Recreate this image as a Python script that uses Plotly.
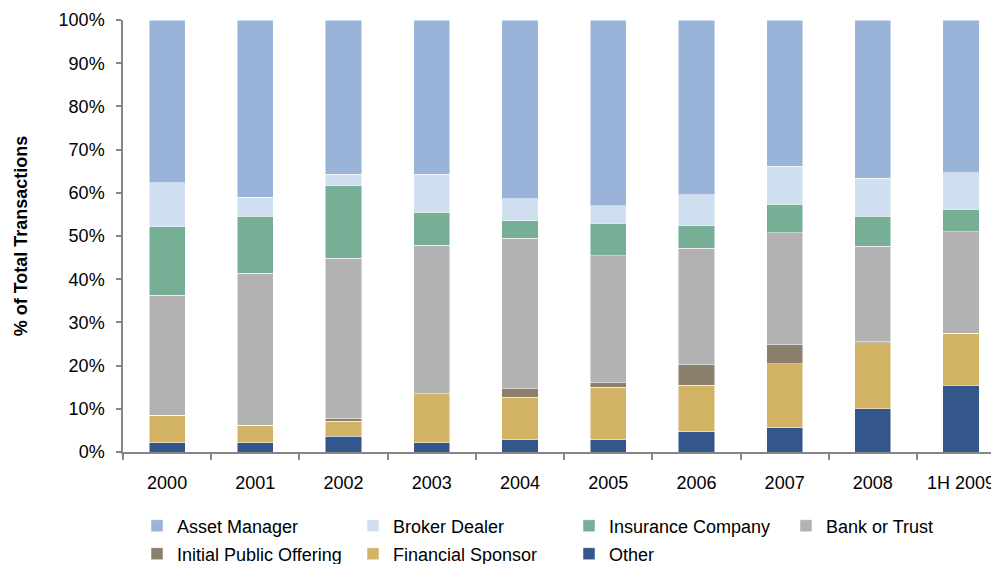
import plotly.graph_objects as go

categories = ["2000", "2001", "2002", "2003", "2004", "2005", "2006", "2007", "2008", "1H 2009"]

other = [2.1, 2.1, 3.6, 2.1, 2.8, 2.8, 4.7, 5.6, 10.0, 15.4]
financial_sponsor = [6.4, 4.1, 3.5, 11.4, 9.9, 12.2, 10.7, 14.8, 15.3, 12.1]
ipo = [0.0, 0.0, 0.6, 0.0, 2.0, 1.0, 4.8, 4.4, 0.2, 0.0]
bank_trust = [27.8, 35.2, 37.2, 34.4, 34.8, 29.4, 27.0, 25.9, 22.1, 23.5]
insurance = [15.8, 13.2, 16.7, 7.6, 4.0, 7.5, 5.2, 6.7, 7.0, 5.2]
broker_dealer = [10.2, 4.4, 2.7, 8.8, 5.1, 4.1, 7.2, 8.7, 8.8, 8.4]
asset_manager = [37.7, 41.0, 35.7, 35.7, 41.4, 43.0, 40.4, 33.9, 36.6, 35.4]

y_ticks = [0, 10, 20, 30, 40, 50, 60, 70, 80, 90, 100]
y_tick_labels = [f"{v}%" for v in y_ticks]

series_names = ["Other", "Financial Sponsor", "Initial Public Offering", "Bank or Trust",
                "Insurance Company", "Broker Dealer", "Asset Manager"]
series_values = [other, financial_sponsor, ipo, bank_trust, insurance, broker_dealer, asset_manager]
series_colors = ["#33578A", "#D3B366", "#8B7F6E", "#B2B2B2", "#77AE96", "#CFDFF0", "#99B3D9"]

# The page body has an 8px margin, so the figure is sized to the visible area.
W, H = 991, 556

# legend placement (figure px): column starts and row centres
col_x = [129, 345, 561, 778]
row_y = [518, 546]
legend_slots = {
    "Asset Manager": (0, 0), "Broker Dealer": (1, 0), "Insurance Company": (2, 0), "Bank or Trust": (3, 0),
    "Initial Public Offering": (0, 1), "Financial Sponsor": (1, 1), "Other": (2, 1),
}

fig = go.Figure()
legend_layouts = {}
for i, (name, vals, color) in enumerate(zip(series_names, series_values, series_colors)):
    key = "legend" if i == 0 else f"legend{i + 1}"
    fig.add_trace(go.Bar(
        x=categories, y=vals, name=name,
        marker=dict(color=color, line=dict(color="rgba(255,255,255,0.7)", width=0.7)),
        legend=key, showlegend=True,
    ))
    c, r = legend_slots[name]
    legend_layouts[key] = dict(
        orientation="h", xref="container", yref="container",
        x=col_x[c] / W, y=1 - row_y[r] / H, xanchor="left", yanchor="middle",
        font=dict(family="Liberation Sans, Arial", size=18, color="#000000"),
        itemclick=False, itemdoubleclick=False, bgcolor="rgba(0,0,0,0)", borderwidth=0,
    )

fig.update_layout(
    width=W, height=H, showlegend=True,
    barmode="stack", bargap=0.59,
    margin=dict(l=115, r=0, t=12, b=112),
    plot_bgcolor="white", paper_bgcolor="white",
    font=dict(family="Liberation Sans, Arial", size=18, color="#000000"),
    xaxis=dict(
        type="category", range=[-0.5, 9.43],
        showline=True, linecolor="#868686", linewidth=1.5,
        ticks="outside", tickson="boundaries", ticklen=6, tickcolor="#868686", tickwidth=1.5,
        showgrid=False, tickfont=dict(size=18), ticklabelstandoff=14,
    ),
    yaxis=dict(
        range=[0, 100], tickvals=y_ticks, ticktext=y_tick_labels,
        showline=True, linecolor="#868686", linewidth=1.5,
        ticks="outside", ticklen=5, tickcolor="#868686", tickwidth=1.5,
        showgrid=False, zeroline=False, tickfont=dict(size=18), ticklabelstandoff=8,
        title=dict(text="<b>% of Total Transactions</b>", font=dict(size=18), standoff=26),
    ),
    **legend_layouts,
)

fig.write_html("out.html")
